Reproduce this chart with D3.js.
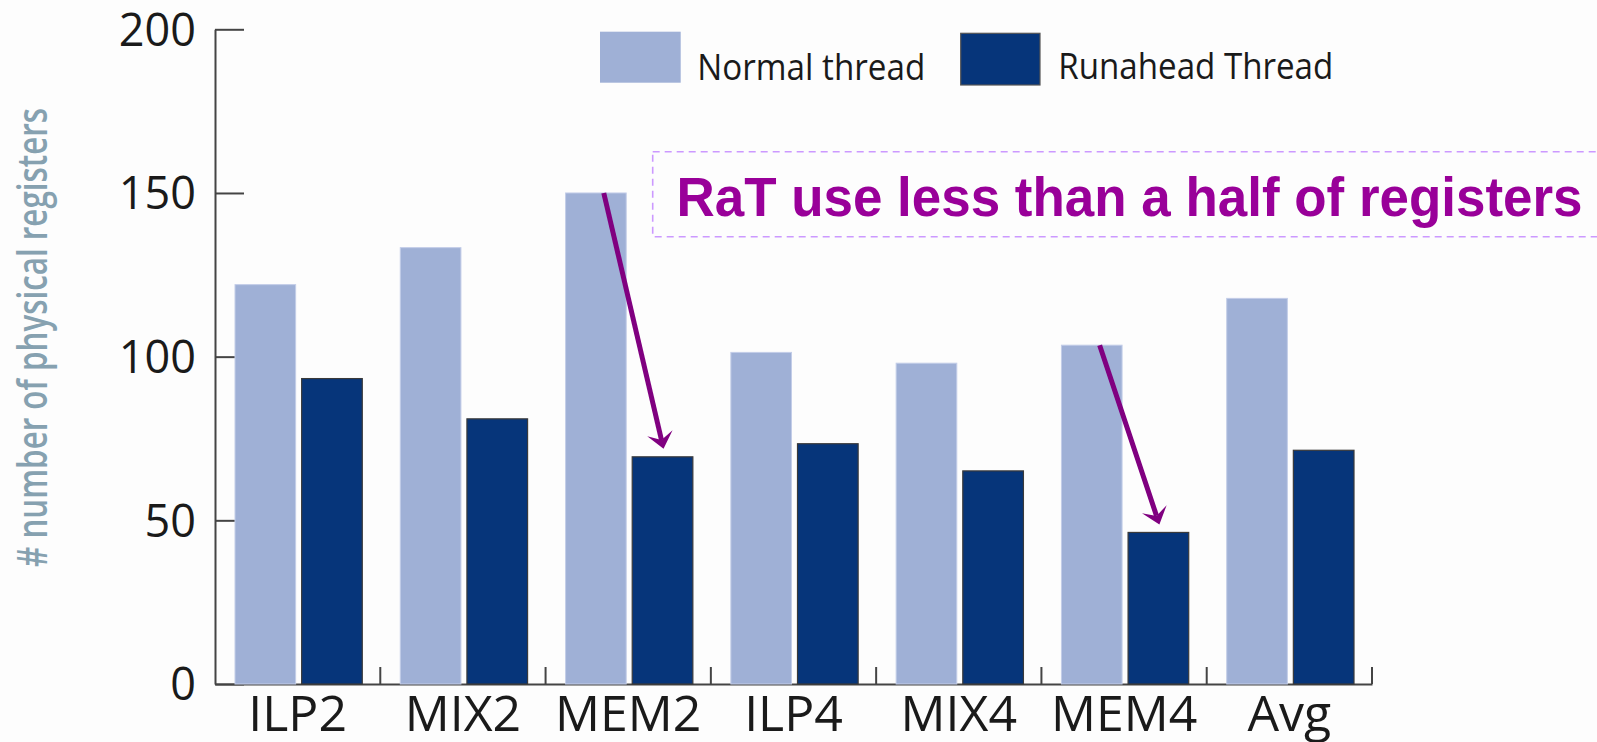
<!DOCTYPE html>
<html>
<head>
<meta charset="utf-8">
<script src="https://cdn.jsdelivr.net/npm/d3@7"></script>
<style>
  html, body { margin: 0; padding: 0; background: #fdfdfd; }
  svg { display: block; }
</style>
</head>
<body>
<svg id="chart" width="1597" height="742"></svg>
<script>
// Benchmark groups and register usage per thread type
const categories = ["ILP2", "MIX2", "MEM2", "ILP4", "MIX4", "MEM4", "Avg"];
const normalThread = [122, 133.3, 150, 101.3, 98, 103.5, 117.8];
const runaheadThread = [93.3, 81, 69.4, 73.4, 65.1, 46.3, 71.4];
const seriesNames = ["Normal thread", "Runahead Thread"];
const yTicks = [0, 50, 100, 150, 200];
const arrowGroups = ["MEM2", "MEM4"];
const calloutText = "RaT use less than a half of registers";
const yTitle = "# number of physical registers";

const colors = { "Normal thread": "#9fb0d6", "Runahead Thread": "#06357a" };
const seriesValues = { "Normal thread": normalThread, "Runahead Thread": runaheadThread };

const svg = d3.select("#chart");
svg.append("rect").attr("width", 1597).attr("height", 742).attr("fill", "#fdfdfd");

const plot = { left: 215, right: 1372, top: 29.3, bottom: 684 };

const x = d3.scaleBand().domain(categories).range([plot.left, plot.right]).padding(0);
const xs = d3.scaleBand().domain(seriesNames)
  .range([20, x.bandwidth() - 18]).paddingInner(0.09).paddingOuter(0);
const y = d3.scaleLinear().domain([0, 200]).range([plot.bottom, plot.top]);

const fontMain = "'Open Sans', 'DejaVu Sans', sans-serif";

// Y axis: ticks point into the plot, labels on the left
const yAxis = svg.append("g")
  .attr("transform", `translate(${plot.left},0)`)
  .call(d3.axisLeft(y).tickValues(yTicks).tickFormat(d3.format("d"))
    .tickSizeInner(-29).tickSizeOuter(0).tickPadding(19));
yAxis.select(".domain").attr("stroke", "#444").attr("stroke-width", 2);
yAxis.selectAll(".tick line").attr("stroke", "#444").attr("stroke-width", 2);
yAxis.selectAll(".tick text")
  .attr("font-family", fontMain).attr("font-size", 45).attr("fill", "#1a1a1a")
  .attr("dy", "0.35em");

// X axis: labels at group centres, small upward ticks at group boundaries
const xAxis = svg.append("g")
  .attr("transform", `translate(0,${plot.bottom})`)
  .call(d3.axisBottom(x).tickSizeInner(0).tickSizeOuter(0).tickPadding(0));
xAxis.select(".domain").attr("stroke", "#444").attr("stroke-width", 2);
xAxis.selectAll(".tick line").remove();
xAxis.selectAll(".tick text")
  .attr("font-family", fontMain).attr("font-size", 50).attr("fill", "#1a1a1a")
  .attr("y", 47).attr("dy", 0);

svg.append("g").selectAll("line")
  .data(categories)
  .join("line")
  .attr("x1", d => x(d) + x.bandwidth())
  .attr("x2", d => x(d) + x.bandwidth())
  .attr("y1", plot.bottom)
  .attr("y2", plot.bottom - 17)
  .attr("stroke", "#444").attr("stroke-width", 2);

// Bars
const groups = svg.append("g").selectAll("g")
  .data(categories)
  .join("g")
  .attr("transform", d => `translate(${x(d)},0)`);

groups.selectAll("rect")
  .data((d, i) => seriesNames.map(s => ({ series: s, value: seriesValues[s][i] })))
  .join("rect")
  .attr("x", d => xs(d.series))
  .attr("width", xs.bandwidth())
  .attr("y", d => y(d.value))
  .attr("height", d => y(0) - y(d.value))
  .attr("fill", d => colors[d.series])
  .attr("stroke", d => d.series === "Runahead Thread" ? "#3a3a3a" : "#c3cde8")
  .attr("stroke-width", d => d.series === "Runahead Thread" ? 1.2 : 1);

// Y axis title
svg.append("text")
  .attr("transform", "translate(47,337.5) rotate(-90)")
  .attr("text-anchor", "middle")
  .attr("font-family", fontMain)
  .attr("font-size", 42)
  .attr("font-weight", 600)
  .attr("fill", "#86a1b0")
  .attr("textLength", 459)
  .attr("lengthAdjust", "spacingAndGlyphs")
  .text(yTitle);

// Legend
const legendItems = [
  { name: seriesNames[0], bx: 600, by: 31.7, bw: 80.7, bh: 51, tx: 697.3, ty: 80, tl: 228, stroke: "none" },
  { name: seriesNames[1], bx: 960.7, by: 33.3, bw: 79.3, bh: 51.7, tx: 1058.3, ty: 79.3, tl: 275, stroke: "#555" }
];
const legend = svg.append("g");
legend.selectAll("rect")
  .data(legendItems)
  .join("rect")
  .attr("x", d => d.bx).attr("y", d => d.by)
  .attr("width", d => d.bw).attr("height", d => d.bh)
  .attr("fill", d => colors[d.name])
  .attr("stroke", d => d.stroke).attr("stroke-width", 1.2);
legend.selectAll("text")
  .data(legendItems)
  .join("text")
  .attr("x", d => d.tx).attr("y", d => d.ty)
  .attr("font-family", fontMain).attr("font-size", 37)
  .attr("fill", "#1a1a1a")
  .attr("textLength", d => d.tl)
  .attr("lengthAdjust", "spacingAndGlyphs")
  .text(d => d.name);

// Callout box and text
svg.append("rect")
  .attr("x", 652.7).attr("y", 151.7)
  .attr("width", 1000).attr("height", 85)
  .attr("fill", "none")
  .attr("stroke", "#cc99ff").attr("stroke-width", 1.6)
  .attr("stroke-dasharray", "7,5");

svg.append("text")
  .attr("x", 676.5).attr("y", 216)
  .attr("font-family", "'Liberation Sans', Arial, sans-serif")
  .attr("font-weight", "bold")
  .attr("font-size", 56)
  .attr("fill", "#990099")
  .attr("textLength", 906)
  .attr("lengthAdjust", "spacingAndGlyphs")
  .text(calloutText);

// Arrows from the normal-thread bar top down to the runahead bar
const arrowColor = "#800080";
const arrows = svg.append("g");
arrowGroups.forEach(cat => {
  const i = categories.indexOf(cat);
  const sx = x(cat) + xs(seriesNames[0]) + xs.bandwidth() * 0.63;
  const sy = y(normalThread[i]);
  const tx = x(cat) + xs(seriesNames[1]) + xs.bandwidth() / 2 + 1;
  const ty = y(runaheadThread[i]) - 8;
  const dx = tx - sx, dy = ty - sy;
  const len = Math.hypot(dx, dy);
  const ux = dx / len, uy = dy / len;
  const px = -uy, py = ux;
  const back = 16, half = 13, notch = 9;
  const nx = tx - ux * notch, ny = ty - uy * notch;
  arrows.append("line")
    .attr("x1", sx).attr("y1", sy)
    .attr("x2", nx).attr("y2", ny)
    .attr("stroke", arrowColor).attr("stroke-width", 5);
  const pts = [
    [tx, ty],
    [tx - ux * back + px * half, ty - uy * back + py * half],
    [nx, ny],
    [tx - ux * back - px * half, ty - uy * back - py * half]
  ];
  arrows.append("polygon")
    .attr("points", pts.map(p => p.join(",")).join(" "))
    .attr("fill", arrowColor);
});
</script>
</body>
</html>
